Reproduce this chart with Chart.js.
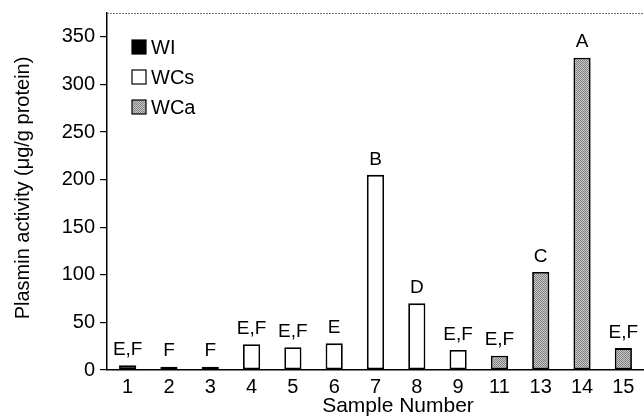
<!DOCTYPE html>
<html>
<head>
<meta charset="utf-8">
<script src="https://cdn.jsdelivr.net/npm/chart.js@4/dist/chart.umd.min.js"></script>
<style>
  html, body { margin: 0; padding: 0; background: #fff; }
  #wrap { width: 644px; height: 416px; }
</style>
</head>
<body>
<div id="wrap"><canvas id="chart" width="644" height="416"></canvas></div>
<script>
// sample numbers on the x axis
const samples = ['1', '2', '3', '4', '5', '6', '7', '8', '9', '11', '13', '14', '15'];
// plasmin activity per group (null = not in group)
const wiValues  = [5, 3.5, 3.5, null, null, null, null, null, null, null, null, null, null];
const wcsValues = [null, null, null, 27, 24, 28, 205, 70, 21, null, null, null, null];
const wcaValues = [null, null, null, null, null, null, null, null, null, 15, 103, 328, 23];
// significance letters above bars
const letters = ['E,F', 'F', 'F', 'E,F', 'E,F', 'E', 'B', 'D', 'E,F', 'E,F', 'C', 'A', 'E,F'];
const yTicks = [0, 50, 100, 150, 200, 250, 300, 350];
const groupNames = ['WI', 'WCs', 'WCa'];

const FONT = 'Liberation Sans, Arial, sans-serif';

// stippled grey fill
function grayPattern() {
    const c = document.createElement('canvas');
    c.width = 2; c.height = 2;
    const g = c.getContext('2d');
    g.fillStyle = '#c8c8c8'; g.fillRect(0, 0, 2, 2);
    g.fillStyle = '#808080'; g.fillRect(0, 0, 1, 1); g.fillRect(1, 1, 1, 1);
    return g.createPattern(c, 'repeat');
}
const wcaFill = grayPattern();

const extras = {
    id: 'extras',
    afterDatasetsDraw(chart) {
        const ctx = chart.ctx;
        const area = chart.chartArea;
        ctx.save();

        // letters over the bars
        ctx.font = '19px ' + FONT;
        ctx.fillStyle = '#000';
        ctx.textAlign = 'center';
        ctx.textBaseline = 'bottom';
        samples.forEach((s, i) => {
            chart.data.datasets.forEach((ds, di) => {
                if (ds.data[i] == null) return;
                const bar = chart.getDatasetMeta(di).data[i];
                ctx.fillText(letters[i], bar.x, bar.y - 6);
            });
        });

        // top frame line
        ctx.strokeStyle = '#777';
        ctx.lineWidth = 1;
        ctx.setLineDash([2, 1]);
        ctx.beginPath();
        ctx.moveTo(area.left, area.top + 0.5);
        ctx.lineTo(area.right, area.top + 0.5);
        ctx.stroke();
        ctx.setLineDash([]);

        // legend in the upper left corner
        ctx.font = '20px ' + FONT;
        ctx.textAlign = 'left';
        ctx.textBaseline = 'middle';
        chart.data.datasets.forEach((ds, di) => {
            const x = area.left + 25, y = area.top + 34 + di * 30;
            ctx.fillStyle = ds.backgroundColor;
            ctx.fillRect(x, y - 7, 14, 14);
            ctx.strokeStyle = '#000';
            ctx.lineWidth = 1.2;
            ctx.strokeRect(x, y - 7, 14, 14);
            ctx.fillStyle = '#000';
            ctx.fillText(groupNames[di], x + 19, y + 1);
        });

        // axis titles
        ctx.textAlign = 'center';
        ctx.textBaseline = 'middle';
        ctx.font = '21px ' + FONT;
        ctx.fillText('Sample Number', 398, 406);

        ctx.translate(23, 188);
        ctx.rotate(-Math.PI / 2);
        ctx.font = '20px ' + FONT;
        ctx.fillText('Plasmin activity (\u03bcg/g protein)', 0, 0);

        ctx.restore();
    }
};

const barStyle = { borderColor: '#000', borderWidth: 1.8, borderSkipped: false,
    categoryPercentage: 0.8, barPercentage: 0.52 };

new Chart(document.getElementById('chart'), {
    type: 'bar',
    data: {
        labels: samples,
        datasets: [
            Object.assign({ label: groupNames[0], data: wiValues, backgroundColor: '#000' }, barStyle),
            Object.assign({ label: groupNames[1], data: wcsValues, backgroundColor: '#fff' }, barStyle),
            Object.assign({ label: groupNames[2], data: wcaValues, backgroundColor: wcaFill }, barStyle)
        ]
    },
    options: {
        responsive: false,
        animation: false,
        layout: { padding: { top: 13, right: 0, left: 0, bottom: 0 } },
        plugins: { legend: { display: false }, tooltip: { enabled: false } },
        scales: {
            x: {
                stacked: true,
                grid: { display: false, drawTicks: false, tickLength: 0 },
                border: { display: true, color: '#000', width: 1.5 },
                ticks: { color: '#000', font: { family: FONT, size: 20 }, padding: 5, maxRotation: 0 },
                afterFit(scale) { scale.height = 46; scale.paddingLeft = 0; scale.paddingRight = 0; }
            },
            y: {
                stacked: true,
                min: 0,
                max: 375,
                grid: { drawOnChartArea: false, drawTicks: true, tickLength: 7, color: '#000', lineWidth: 1.2 },
                border: { display: true, color: '#000', width: 1.5 },
                ticks: { color: '#000', font: { family: FONT, size: 20 }, padding: 5, stepSize: 50 },
                afterBuildTicks(scale) { scale.ticks = yTicks.map(v => ({ value: v })); },
                afterFit(scale) { scale.width = 107; scale.paddingTop = 0; scale.paddingBottom = 0; }
            }
        }
    },
    plugins: [extras]
});
</script>
</body>
</html>
